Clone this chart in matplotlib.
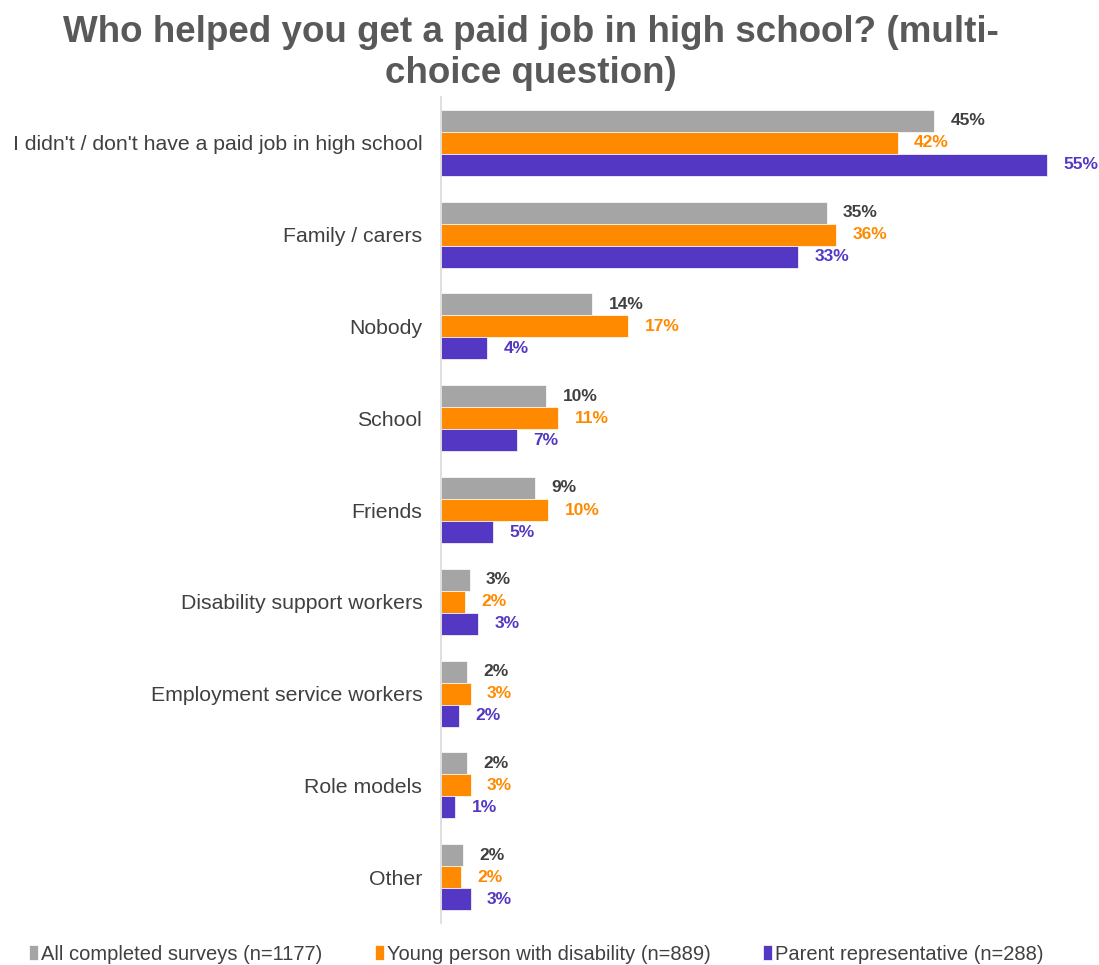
import matplotlib
matplotlib.use("Agg")
import matplotlib.pyplot as plt
import numpy as np

categories = ["I didn't / don't have a paid job in high school", "Family / carers", "Nobody",
              "School", "Friends", "Disability support workers", "Employment service workers",
              "Role models", "Other"]
all_surveys = [45.0, 35.2, 13.8, 9.6, 8.6, 2.6, 2.4, 2.4, 2.0]
young_person = [41.7, 36.1, 17.1, 10.7, 9.8, 2.2, 2.7, 2.7, 1.8]
parent_rep = [55.3, 32.6, 4.2, 6.9, 4.7, 3.4, 1.6, 1.3, 2.7]
series_names = ["All completed surveys (n=1177)", "Young person with disability (n=889)",
                "Parent representative (n=288)"]

colors = ["#A5A5A5", "#FF8A00", "#5438C3"]
label_colors = ["#404040", "#FF8A00", "#5438C3"]

plt.rcParams['font.family'] = ['Liberation Sans', 'DejaVu Sans']

fig = plt.figure(figsize=(10.99, 9.65), dpi=100)
ax = fig.add_axes([0.4013, 0.0435, 0.598, 0.856])

n = len(categories)
y = np.arange(n)
h = 0.24
series = [all_surveys, young_person, parent_rep]
for i, (vals, c, lc) in enumerate(zip(series, colors, label_colors)):
    pos = y + (i - 1) * h
    ax.barh(pos, vals, height=h, color=c, label=series_names[i], edgecolor='white', linewidth=0.5)
    for p, v in zip(pos, vals):
        ax.text(v + 1.5, p, f"{v:.0f}%", va='center', ha='left', fontsize=12.5,
                fontweight='bold', color=lc)

ax.set_ylim(n - 0.5, -0.5)
ax.set_xlim(0, 60)
ax.set_yticks(y)
ax.set_yticklabels(categories, fontsize=15.3, color="#404040")
ax.tick_params(axis='y', length=0, pad=13.5)
ax.set_xticks([])
for s in ['top', 'right', 'bottom']:
    ax.spines[s].set_visible(False)
ax.spines['left'].set_color('#D9D9D9')
ax.spines['left'].set_linewidth(1.2)

fig.text(0.483, 0.966, "Who helped you get a paid job in high school? (multi-", ha='center', va='center',
         fontsize=26.5, fontweight='bold', color='#595959')
fig.text(0.483, 0.924, "choice question)", ha='center', va='center',
         fontsize=26.5, fontweight='bold', color='#595959')

handles, labels = ax.get_legend_handles_labels()
fig.legend(handles, labels, loc='center', bbox_to_anchor=(0.488, 0.011), ncol=3, frameon=False,
           fontsize=14.5, labelcolor='#404040', handlelength=0.45, handleheight=0.75,
           handletextpad=0.15, columnspacing=2.6)

fig.savefig("out.png", dpi=100, facecolor='white')
